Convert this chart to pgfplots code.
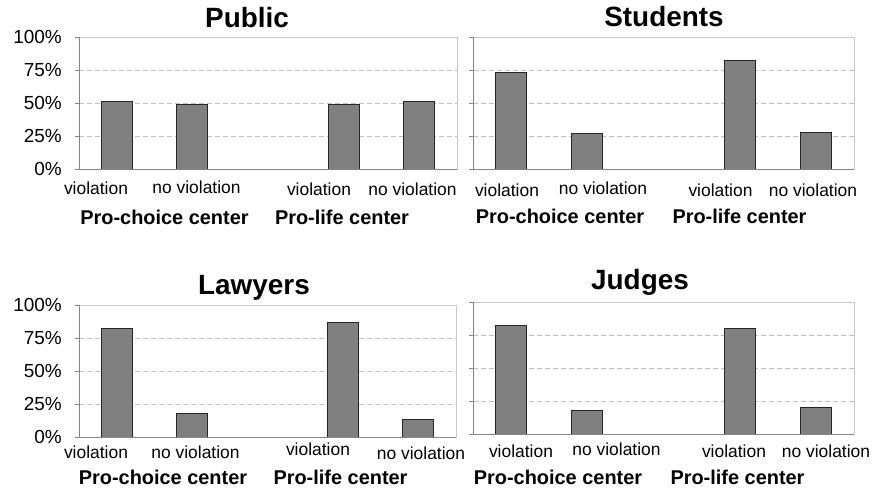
\documentclass[border=0pt]{standalone}
\usepackage{pgfplots}
\pgfplotsset{compat=1.18}
\usepackage{fontspec}
\setmainfont{Liberation Sans}
\definecolor{bargray}{RGB}{128,128,128}
\definecolor{axgray}{RGB}{134,134,134}
\definecolor{framegray}{RGB}{200,200,200}
\definecolor{gridgray}{RGB}{192,192,192}
\newcommand{\tl}{\fontsize{17.5}{20}\selectfont}
\newcommand{\gl}{\fontsize{20}{24}\selectfont\bfseries}
\newcommand{\ttl}{\fontsize{28}{32}\selectfont\bfseries}
\pgfplotsset{
  panel/.style={
    scale only axis, anchor=south west,
    xmin=-0.5, xmax=4.5, ymin=0, ymax=100,
    xtick=\empty,
    ytick={0,25,50,75,100},
    ytick pos=left, tick align=outside,
    major tick length=4bp,
    tick style={axgray, line width=0.6pt},
    ymajorgrids,
    grid style={gridgray, dash pattern=on 5bp off 3bp, line width=0.6pt},
    axis line style={framegray, line width=0.6pt},
    ybar, bar width=31bp,
    clip=false,
  },
  leftlabels/.style={
    yticklabels={0\%,25\%,50\%,75\%,100\%},
    yticklabel style={font=\fontsize{19}{22}\selectfont, inner sep=0pt, xshift=-13bp},
  },
  nolabels/.style={yticklabels={}},
  bars/.style={fill=bargray, draw=black!85, line width=0.9pt},
}
\begin{document}
\begin{tikzpicture}
\begin{scope}[x=1bp,y=1bp]
\useasboundingbox (0,0) rectangle (875,491);
\end{scope}

% Public
\begin{axis}[panel, leftlabels, at={(79bp,322bp)}, width=378bp, height=132bp]
\addplot[bars] coordinates {(0,51) (1,49) (3,49) (4,51)};
\draw[axgray, line width=0.7pt] (rel axis cs:0,1) -- (rel axis cs:0,0) -- (rel axis cs:1,0);
\end{axis}

% Students
\begin{axis}[panel, nolabels, at={(473bp,322bp)}, width=381bp, height=132bp]
\addplot[bars] coordinates {(0,73) (1,27) (3,82) (4,28)};
\draw[axgray, line width=0.7pt] (rel axis cs:0,1) -- (rel axis cs:0,0) -- (rel axis cs:1,0);
\end{axis}

% Lawyers
\begin{axis}[panel, leftlabels, at={(79bp,54bp)}, width=377bp, height=132bp]
\addplot[bars] coordinates {(0,82) (1,18) (3,87) (4,13)};
\draw[axgray, line width=0.7pt] (rel axis cs:0,1) -- (rel axis cs:0,0) -- (rel axis cs:1,0);
\end{axis}

% Judges
\begin{axis}[panel, nolabels, at={(473bp,57bp)}, width=381bp, height=132bp]
\addplot[bars] coordinates {(0,82) (1,18) (3,80) (4,20)};
\draw[axgray, line width=0.7pt] (rel axis cs:0,1) -- (rel axis cs:0,0) -- (rel axis cs:1,0);
\end{axis}

\begin{scope}[x=1bp,y=1bp]
% Titles
\node[anchor=base, inner sep=0pt, font=\ttl] at (247,463.7) {Public};
\node[anchor=base, inner sep=0pt, font=\ttl] at (664,464.3) {Students};
\node[anchor=base, inner sep=0pt, font=\ttl] at (254,196) {Lawyers};
\node[anchor=base, inner sep=0pt, font=\ttl] at (640,201) {Judges};

% Category labels
\begin{scope}[every node/.style={anchor=base, inner sep=0pt, font=\tl}]
\node at (96,296.7) {violation};
\node at (196.5,297) {no violation};
\node at (319,295.3) {violation};
\node at (412.5,295.3) {no violation};
\node at (507,294.3) {violation};
\node at (603,296) {no violation};
\node at (720.5,294.3) {violation};
\node at (813,294.3) {no violation};
\node at (96,32.7) {violation};
\node at (195.5,32.7) {no violation};
\node at (318,35) {violation};
\node at (421,31.7) {no violation};
\node at (521,33.7) {violation};
\node at (616.5,35.3) {no violation};
\node at (734,33.7) {violation};
\node at (826,33.7) {no violation};
\end{scope}

% Group labels
\begin{scope}[every node/.style={anchor=base, inner sep=0pt, font=\gl}]
\node at (164.5,266) {Pro-choice center};
\node at (342,266) {Pro-life center};
\node at (560,267) {Pro-choice center};
\node at (739.5,267) {Pro-life center};
\node at (163,6) {Pro-choice center};
\node at (340.5,6) {Pro-life center};
\node at (558,6) {Pro-choice center};
\node at (737.5,6) {Pro-life center};
\end{scope}
\end{scope}
\end{tikzpicture}
\end{document}
